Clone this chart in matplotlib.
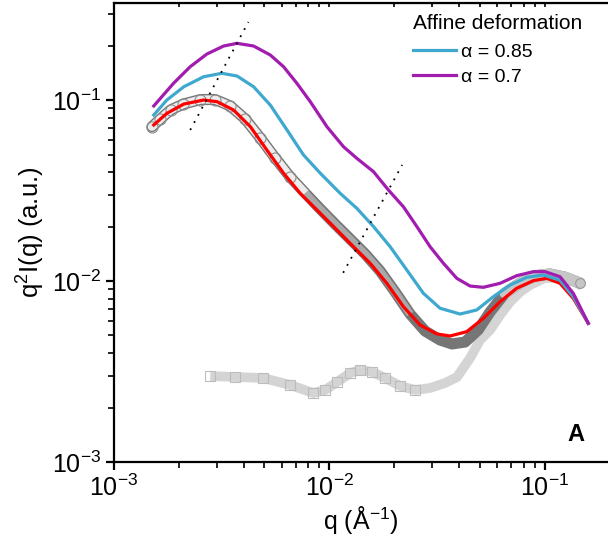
import numpy as np
import matplotlib.pyplot as plt
from matplotlib.ticker import LogLocator, NullFormatter

plt.rcParams['font.family'] = ['Liberation Sans', 'DejaVu Sans']
plt.rcParams['mathtext.fontset'] = 'custom'
plt.rcParams['mathtext.rm'] = 'Liberation Sans'
plt.rcParams['mathtext.it'] = 'Liberation Sans:italic'
plt.rcParams['mathtext.bf'] = 'Liberation Sans:bold'

# measured data, circles (q in 1/A, q^2 I in a.u.)
q_circ = [1.50e-3, 1.64e-3, 1.83e-3, 2.10e-3, 2.52e-3, 2.95e-3, 3.47e-3, 4.07e-3, 4.78e-3,
          5.61e-3, 6.59e-3, 7.73e-3, 9.08e-3, 1.065e-2, 1.25e-2, 1.468e-2, 1.722e-2, 2.022e-2,
          2.374e-2, 2.786e-2, 3.27e-2, 3.717e-2, 4.271e-2, 4.909e-2, 5.58e-2, 6.548e-2, 7.69e-2,
          9.03e-2, 0.106, 0.1243, 0.146]
I_circ = [0.0712, 0.0785, 0.0881, 0.0950, 0.1006, 0.1006, 0.0927, 0.0785, 0.0617,
          0.0478, 0.0375, 0.0306, 0.0250, 0.0206, 0.01706, 0.0141, 0.01136, 0.00870,
          0.00657, 0.00529, 0.00472, 0.00449, 0.00460, 0.00536, 0.00674, 0.00858, 0.00975,
          0.0107, 0.01093, 0.0105, 0.00975]

# measured data, squares
q_sq = [2.80e-3, 3.66e-3, 4.93e-3, 6.59e-3, 8.42e-3, 9.57e-3, 1.088e-2, 1.25e-2, 1.391e-2,
        1.582e-2, 1.817e-2, 2.133e-2, 2.504e-2, 2.939e-2, 3.45e-2, 3.922e-2, 4.507e-2, 5.014e-2,
        5.58e-2, 6.21e-2, 6.91e-2, 7.69e-2, 8.556e-2, 0.1004, 0.1179, 0.1384, 0.1491]
I_sq = [2.986e-3, 2.949e-3, 2.911e-3, 2.663e-3, 2.406e-3, 2.499e-3, 2.767e-3, 3.102e-3, 3.223e-3,
        3.142e-3, 2.911e-3, 2.630e-3, 2.499e-3, 2.564e-3, 2.732e-3, 2.949e-3, 3.754e-3, 4.721e-3,
        5.362e-3, 6.489e-3, 7.66e-3, 8.695e-3, 9.504e-3, 0.0104, 0.0104, 0.00987, 0.00938]

# model fit (red)
q_fit = [1.53e-3, 1.76e-3, 2.11e-3, 2.61e-3, 3.01e-3, 3.59e-3, 4.30e-3, 5.13e-3, 6.13e-3,
         7.33e-3, 8.76e-3, 1.046e-2, 1.295e-2, 1.548e-2, 1.85e-2, 2.21e-2, 2.641e-2, 3.157e-2,
         3.639e-2, 4.35e-2, 5.194e-2, 6.21e-2, 7.42e-2, 8.86e-2, 0.1023, 0.1179, 0.1359, 0.1595]
I_fit = [0.0728, 0.0844, 0.0950, 0.1000, 0.0979, 0.0881, 0.0712, 0.0529, 0.0394,
         0.0305, 0.0247, 0.0200, 0.01547, 0.01253, 0.00971, 0.00721, 0.00571, 0.00510,
         0.00497, 0.00525, 0.00622, 0.00768, 0.00912, 0.01004, 0.01035, 0.00971, 0.00802, 0.00584]

# affine deformation, alpha = 0.85
q_085 = [1.53e-3, 1.76e-3, 2.11e-3, 2.61e-3, 3.17e-3, 3.73e-3, 4.45e-3, 5.32e-3, 6.36e-3,
         7.59e-3, 9.08e-3, 1.124e-2, 1.343e-2, 1.604e-2, 1.917e-2, 2.291e-2, 2.736e-2, 3.27e-2,
         4.05e-2, 4.841e-2, 5.78e-2, 6.91e-2, 8.26e-2, 9.86e-2, 0.1179, 0.1359, 0.1595]
I_085 = [0.0826, 0.1000, 0.1184, 0.1345, 0.1405, 0.1357, 0.1184, 0.0938, 0.0683,
         0.0497, 0.0394, 0.0305, 0.0252, 0.0200, 0.01547, 0.0115, 0.00855, 0.00707,
         0.00657, 0.00692, 0.00819, 0.00950, 0.01048, 0.0108, 0.0101, 0.00819, 0.00584]

# affine deformation, alpha = 0.7
q_07 = [1.53e-3, 1.89e-3, 2.26e-3, 2.70e-3, 3.23e-3, 3.73e-3, 4.45e-3, 5.32e-3, 6.13e-3,
        7.07e-3, 8.16e-3, 9.75e-3, 1.164e-2, 1.343e-2, 1.604e-2, 1.883e-2, 2.21e-2, 2.55e-2,
        2.939e-2, 3.388e-2, 3.909e-2, 4.507e-2, 5.194e-2, 6.21e-2, 7.42e-2, 8.86e-2, 0.1004,
        0.1179, 0.1359, 0.1595]
I_07 = [0.0927, 0.1237, 0.1528, 0.1795, 0.1988, 0.2057, 0.1988, 0.1773, 0.1528,
        0.1237, 0.0979, 0.0712, 0.0552, 0.0476, 0.0402, 0.0318, 0.0257, 0.0200,
        0.01547, 0.01253, 0.01035, 0.00938, 0.00923, 0.00971, 0.0107, 0.01126, 0.01126,
        0.01056, 0.00855, 0.00584]

# dotted guide lines
g1_q = [2.26e-3, 4.21e-3]
g1_I = [0.0683, 0.270]
g2_q = [1.16e-2, 2.18e-2]
g2_I = [0.0111, 0.0438]

fig = plt.figure(figsize=(6.08, 5.39), dpi=100)
ax = fig.add_axes([114/608, 77/539, 494/608, 459/539])

# squares: light gray band
ax.plot(q_sq, I_sq, color='#d4d4d4', lw=7, solid_capstyle='butt', zorder=1)
ax.plot(q_sq[:13], I_sq[:13], 's', ms=7, mfc='none', mec='#bcbcbc', mew=0.8, zorder=1.1)

# circles: dark gray band, hatched look at low q, lighter tail
ax.plot(q_circ, I_circ, color='#767676', lw=8, solid_capstyle='round', zorder=2)
ax.plot(q_circ[:12], I_circ[:12], color='#ececec', lw=6, solid_capstyle='round', zorder=2.1)
ax.plot(q_circ[11:19], I_circ[11:19], color='#a9a9a9', lw=5.5, solid_capstyle='butt', zorder=2.1)
ax.plot(q_circ[25:], I_circ[25:], color='#c6c6c6', lw=8, solid_capstyle='round', zorder=2.1)
ax.plot(q_circ[:11], I_circ[:11], 'o', ms=8, mfc='none', mec='#8c8c8c', mew=0.8, zorder=2.2)
ax.plot(q_circ[-1:], I_circ[-1:], 'o', ms=7, mfc='none', mec='#9a9a9a', mew=0.8, zorder=2.2)

ax.plot(q_fit, I_fit, color='#ff0000', lw=2.3, solid_joinstyle='round', zorder=3)
l1, = ax.plot(q_085, I_085, color='#3fa8cf', lw=2.3, solid_joinstyle='round', zorder=3)
l2, = ax.plot(q_07, I_07, color='#a21caf', lw=2.3, solid_joinstyle='round', zorder=3)

ax.plot(g1_q, g1_I, color='k', lw=1.3, ls=(0, (1, 3.5)), zorder=4)
ax.plot(g2_q, g2_I, color='k', lw=1.3, ls=(0, (1, 3.5)), zorder=4)

ax.set_xscale('log')
ax.set_yscale('log')
ax.set_xlim(1e-3, 0.197)
ax.set_ylim(1e-3, 0.3436)

for a in (ax.xaxis, ax.yaxis):
    a.set_major_locator(LogLocator(base=10))
    a.set_minor_locator(LogLocator(base=10, subs=np.arange(2, 10)))
    a.set_minor_formatter(NullFormatter())

ax.spines['right'].set_visible(False)
for s in ('left', 'bottom', 'top'):
    ax.spines[s].set_linewidth(1.6)
ax.tick_params(which='major', direction='out', length=6, width=1.6, labelsize=18, pad=3)
ax.tick_params(which='minor', direction='out', length=4, width=1.2)

top = ax.secondary_xaxis('top')
top.tick_params(which='both', direction='in', length=3, width=1.2, labeltop=False)
top.xaxis.set_minor_locator(LogLocator(base=10, subs=np.arange(2, 10)))
top.xaxis.set_minor_formatter(NullFormatter())

ax.set_xlabel(r'q (Å$^{-1}$)', fontsize=18, labelpad=2)
ax.set_ylabel(r'q$^{2}$I(q) (a.u.)', fontsize=18.5, labelpad=4)

ax.text(0.605, 0.955, 'Affine deformation', transform=ax.transAxes, fontsize=15,
        ha='left', va='center')
ax.legend([l1, l2], ['α = 0.85', 'α = 0.7'],
          loc='upper left', bbox_to_anchor=(0.605, 0.912), frameon=False,
          fontsize=14, handlelength=2.2, handletextpad=0.3,
          labelspacing=0.36, borderpad=0, borderaxespad=0)

ax.text(0.935, 0.06, 'A', transform=ax.transAxes, fontsize=17, fontweight='bold',
        ha='center', va='center')

fig.savefig('out.png', dpi=100)
